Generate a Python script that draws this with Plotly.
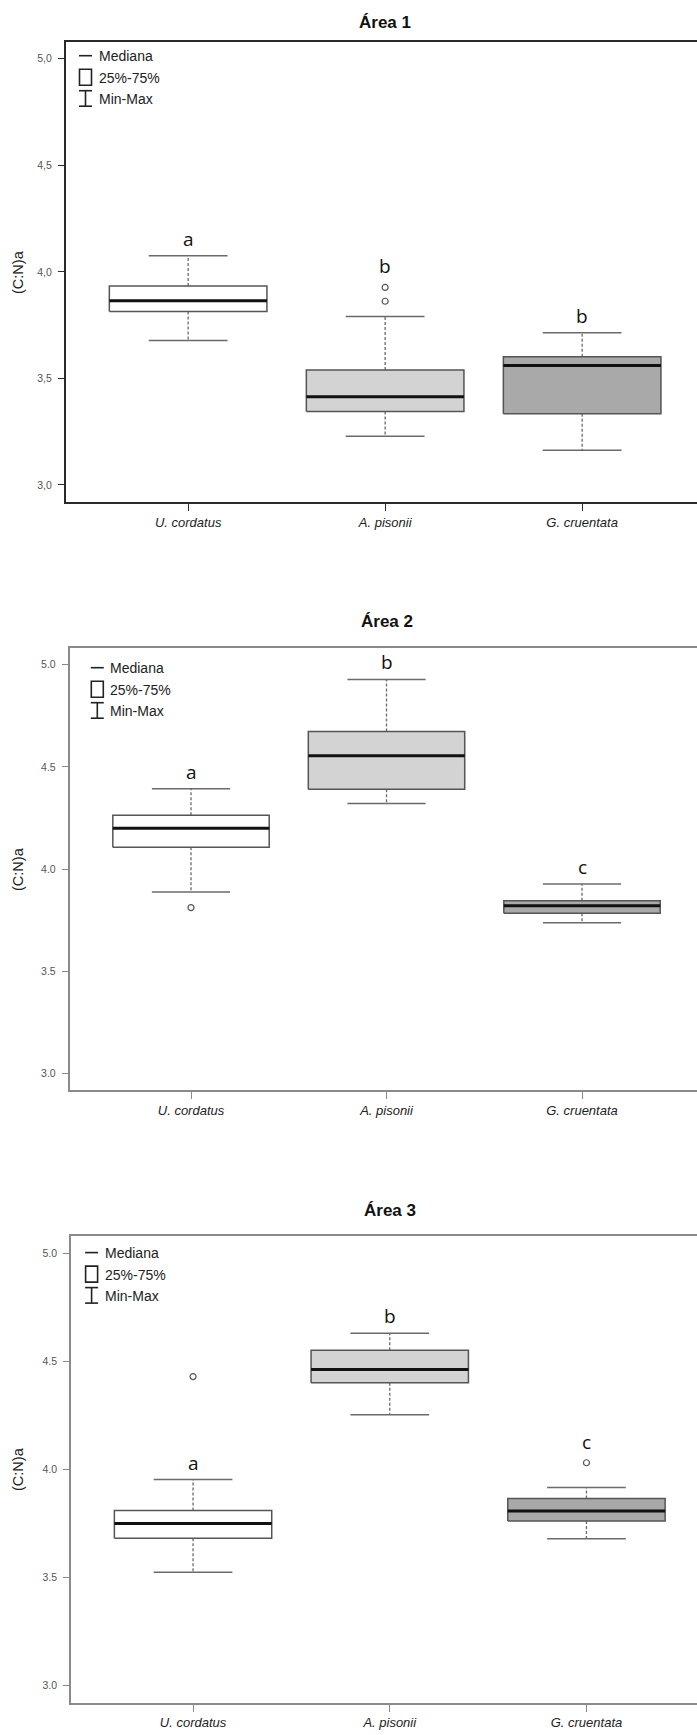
import plotly.graph_objects as go

# --- data -------------------------------------------------------------
species = ["U. cordatus", "A. pisonii", "G. cruentata"]
fills = ["#ffffff", "#d3d3d3", "#a9a9a9"]

# Área 1
a1_min = [3.678, 3.228, 3.163]
a1_q1 = [3.814, 3.345, 3.334]
a1_med = [3.864, 3.414, 3.561]
a1_q3 = [3.934, 3.539, 3.602]
a1_max = [4.075, 3.791, 3.714]
a1_out = [[], [3.862, 3.927], []]
a1_letters = ["a", "b", "b"]

# Área 2
a2_min = [3.888, 4.321, 3.738]
a2_q1 = [4.107, 4.391, 3.784]
a2_med = [4.200, 4.554, 3.821]
a2_q3 = [4.264, 4.673, 3.846]
a2_max = [4.393, 4.928, 3.927]
a2_out = [[3.812], [], []]
a2_letters = ["a", "b", "c"]

# Área 3
a3_min = [3.524, 4.253, 3.679]
a3_q1 = [3.681, 4.401, 3.761]
a3_med = [3.750, 4.463, 3.808]
a3_q3 = [3.810, 4.552, 3.866]
a3_max = [3.953, 4.631, 3.916]
a3_out = [[4.430], [], [4.031]]
a3_letters = ["a", "b", "c"]

titles = ["Área 1", "Área 2", "Área 3"]
y_ticks = [3.0, 3.5, 4.0, 4.5, 5.0]
y_ticktext_comma = ["3,0", "3,5", "4,0", "4,5", "5,0"]
y_ticktext_dot = ["3.0", "3.5", "4.0", "4.5", "5.0"]

areas = [
    dict(mn=a1_min, q1=a1_q1, med=a1_med, q3=a1_q3, mx=a1_max, out=a1_out,
         letters=a1_letters, ticktext=y_ticktext_comma),
    dict(mn=a2_min, q1=a2_q1, med=a2_med, q3=a2_q3, mx=a2_max, out=a2_out,
         letters=a2_letters, ticktext=y_ticktext_dot),
    dict(mn=a3_min, q1=a3_q1, med=a3_med, q3=a3_q3, mx=a3_max, out=a3_out,
         letters=a3_letters, ticktext=y_ticktext_dot),
]

# --- page geometry (pixels) -------------------------------------------
W, H = 697, 1735
panels = [
    dict(left=66.0, top=41.7, bottom=502.0, step=197.0, frame="#2b2b2b",
         title_y=22.3, leg_dx=13, leg_dy=14, ytitle_y=272),
    dict(left=69.8, top=648.3, bottom=1090.0, step=195.5, frame="#8a8a8a",
         title_y=621.7, leg_dx=21, leg_dy=19.4, ytitle_y=869),
    dict(left=71.1, top=1236.2, bottom=1702.7, step=196.7, frame="#8a8a8a",
         title_y=1210.9, leg_dx=14, leg_dy=16.4, ytitle_y=1469),
]


def fx(px):
    return px / W


def fy(py):
    return 1 - py / H


X_LO, X_HI = 0.38, 3.62   # full extent of the plotting region in group units
BOX_HALF = 0.4
CAP_HALF = 0.2
EDGE = "#555555"
WHISK = "#6a6a6a"
TEXT_FONT = "Liberation Sans, Arial, sans-serif"

fig = go.Figure()
shapes = []
annotations = []

for i, (area, pan) in enumerate(zip(areas, panels)):
    xa = "x" if i == 0 else f"x{i + 1}"
    ya = "y" if i == 0 else f"y{i + 1}"
    for k, name in enumerate(species):
        c = k + 1
        lo, q1, md, q3, hi = area["mn"][k], area["q1"][k], area["med"][k], area["q3"][k], area["mx"][k]
        # dashed whiskers
        fig.add_trace(go.Scatter(
            x=[c, c, None, c, c], y=[q3, hi, None, q1, lo], mode="lines",
            line=dict(color=WHISK, width=1.3, dash="3px,2px"),
            xaxis=xa, yaxis=ya, showlegend=False, hoverinfo="skip"))
        # staples
        fig.add_trace(go.Scatter(
            x=[c - CAP_HALF, c + CAP_HALF, None, c - CAP_HALF, c + CAP_HALF],
            y=[hi, hi, None, lo, lo], mode="lines",
            line=dict(color=WHISK, width=1.5),
            xaxis=xa, yaxis=ya, showlegend=False, hoverinfo="skip"))
        # interquartile box
        fig.add_trace(go.Scatter(
            x=[c - BOX_HALF, c + BOX_HALF, c + BOX_HALF, c - BOX_HALF, c - BOX_HALF],
            y=[q1, q1, q3, q3, q1], mode="lines", fill="toself",
            fillcolor=fills[k], line=dict(color=EDGE, width=1.5),
            xaxis=xa, yaxis=ya, showlegend=False, hoverinfo="skip"))
        # median
        fig.add_trace(go.Scatter(
            x=[c - BOX_HALF, c + BOX_HALF], y=[md, md], mode="lines",
            line=dict(color="#111111", width=3),
            xaxis=xa, yaxis=ya, showlegend=False, hoverinfo="skip"))
        # outliers
        if area["out"][k]:
            fig.add_trace(go.Scatter(
                x=[c] * len(area["out"][k]), y=area["out"][k], mode="markers",
                marker=dict(symbol="circle-open", size=6, color="#555555",
                            line=dict(width=1.2)),
                xaxis=xa, yaxis=ya, showlegend=False, hoverinfo="skip"))
        # group letter above the upper whisker (or a close outlier)
        near = [o for o in area["out"][k] if hi < o < hi + 0.3]
        top = max([hi] + near)
        annotations.append(dict(
            x=c, y=top, xref=xa, yref=ya, text=area["letters"][k],
            showarrow=False, xanchor="center", yanchor="bottom",
            yshift=6 if near else 2,
            font=dict(family="Open Sans, sans-serif", size=19, color="#111111")))

    # axes
    x_right = X_LO + (W - pan["left"]) / pan["step"]
    axis_common = dict(showgrid=False, zeroline=False, showline=True,
                       linecolor=pan["frame"], linewidth=2, ticks="outside",
                       tickcolor=pan["frame"], tickwidth=1.2)
    fig.layout[f"xaxis{'' if i == 0 else i + 1}"] = dict(
        axis_common, domain=[fx(pan["left"]), 1.0], anchor=ya,
        range=[X_LO, x_right], tickvals=[1, 2, 3], ticktext=species,
        ticklen=7, mirror=True,
        tickfont=dict(family=TEXT_FONT, size=13, color="#222222", style="italic"))
    fig.layout[f"yaxis{'' if i == 0 else i + 1}"] = dict(
        axis_common, domain=[fy(pan["bottom"]), fy(pan["top"])], anchor=xa,
        range=[2.92, 5.08], tickvals=y_ticks, ticktext=area["ticktext"],
        ticklen=6, ticklabelstandoff=4,
        tickfont=dict(family=TEXT_FONT, size=10.5, color="#555555"))

    # panel title, centred over the full plotting region
    centre_px = pan["left"] + 0.5 * (X_HI - X_LO) * pan["step"]
    annotations.append(dict(
        x=fx(centre_px), y=fy(pan["title_y"]), xref="paper", yref="paper",
        text="<b>" + titles[i] + "</b>",
        showarrow=False, xanchor="center", yanchor="middle",
        font=dict(family=TEXT_FONT, size=17, color="#111111")))
    # y-axis title
    annotations.append(dict(
        x=fx(18), y=fy(pan["ytitle_y"]), xref="paper", yref="paper", text="(C:N)a",
        showarrow=False, textangle=-90, xanchor="center", yanchor="middle",
        font=dict(family=TEXT_FONT, size=14.5, color="#222222")))

    # key: median / interquartile / range
    lx = pan["left"] + pan["leg_dx"]
    ly = pan["top"] + pan["leg_dy"]
    sym = dict(xref="paper", yref="paper", line=dict(color="#222222", width=1.6))
    shapes.append(dict(sym, type="line", x0=fx(lx), x1=fx(lx + 13), y0=fy(ly), y1=fy(ly)))
    shapes.append(dict(sym, type="rect", x0=fx(lx + 0.5), x1=fx(lx + 12.5),
                       y0=fy(ly + 13.5), y1=fy(ly + 29.5)))
    shapes.append(dict(sym, type="line", x0=fx(lx + 6.5), x1=fx(lx + 6.5),
                       y0=fy(ly + 35), y1=fy(ly + 50.5)))
    shapes.append(dict(sym, type="line", x0=fx(lx), x1=fx(lx + 13),
                       y0=fy(ly + 35), y1=fy(ly + 35)))
    shapes.append(dict(sym, type="line", x0=fx(lx), x1=fx(lx + 13),
                       y0=fy(ly + 50.5), y1=fy(ly + 50.5)))
    for text, dy in (("Mediana", 0.3), ("25%-75%", 22.6), ("Min-Max", 43.3)):
        annotations.append(dict(
            x=fx(lx + 17.5), y=fy(ly + dy), xref="paper", yref="paper", text=text,
            showarrow=False, xanchor="left", yanchor="middle",
            font=dict(family=TEXT_FONT, size=14, color="#222222")))

fig.update_layout(
    width=W, height=H, margin=dict(l=0, r=0, t=0, b=0),
    paper_bgcolor="white", plot_bgcolor="white",
    shapes=shapes, annotations=annotations, showlegend=False)

fig.write_html("out.html", config=dict(displayModeBar=False))
